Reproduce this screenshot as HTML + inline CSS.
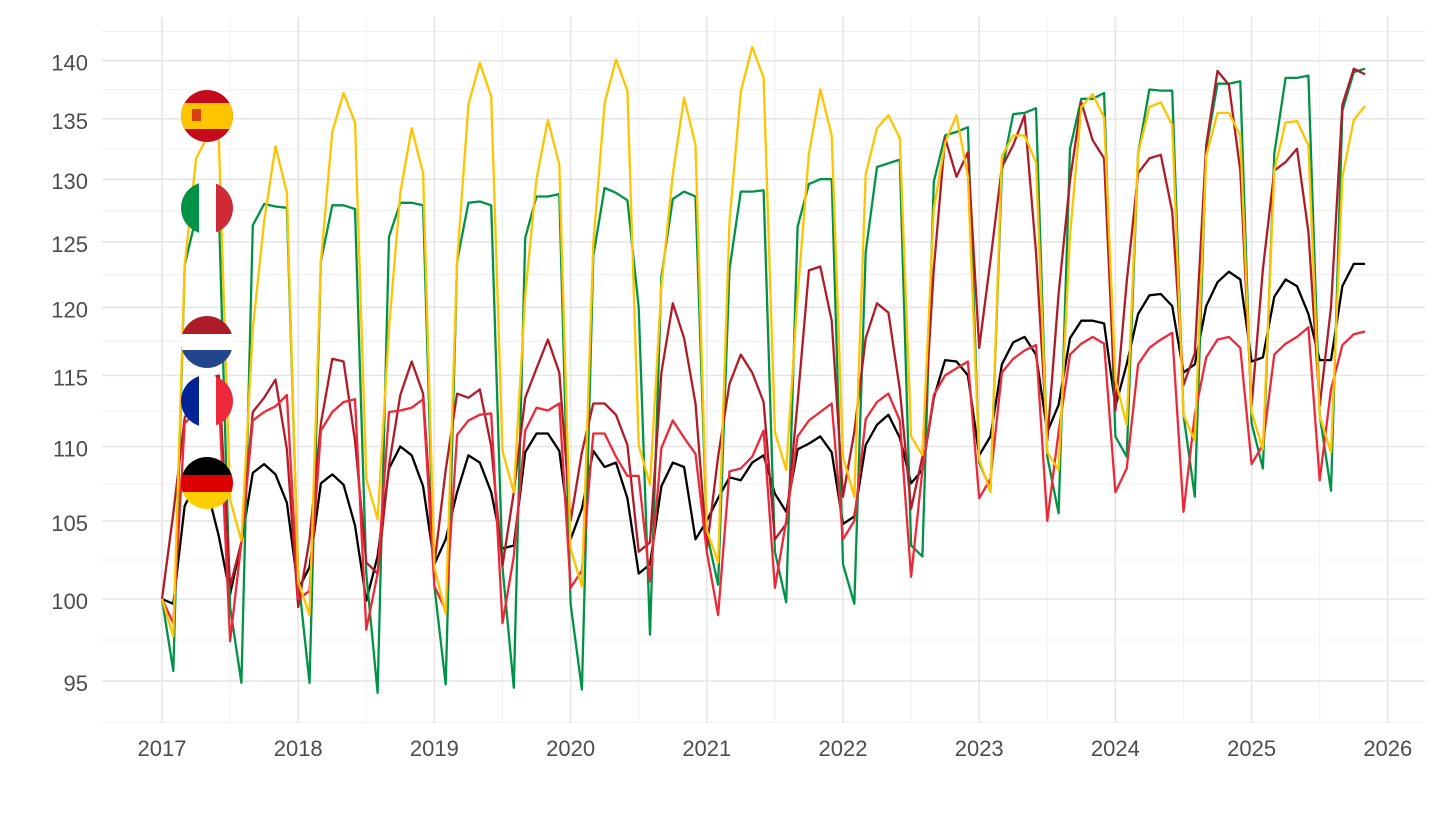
<!DOCTYPE html>
<html><head><meta charset="utf-8"><style>
html,body{margin:0;padding:0;background:#fff;}
svg text{font-family:"Liberation Sans",Arial,sans-serif;}
</style></head><body>
<svg id="chart" width="1440" height="810" viewBox="0 0 1440 810" xmlns="http://www.w3.org/2000/svg">
<defs>
<clipPath id="cES"><circle cx="207" cy="116" r="26"/></clipPath>
<clipPath id="cIT"><circle cx="207" cy="208" r="26"/></clipPath>
<clipPath id="cNL"><circle cx="207" cy="342" r="26"/></clipPath>
<clipPath id="cFR"><circle cx="207" cy="401" r="26"/></clipPath>
<clipPath id="cDE"><circle cx="207" cy="483" r="26"/></clipPath>
</defs>
<g id="grid"></g>
<g id="axes"></g>
<g id="series"></g>
<g id="flags">
 <g clip-path="url(#cES)">
  <rect x="181" y="90" width="52" height="52" fill="#C60B1E"/>
  <rect x="181" y="103" width="52" height="26" fill="#FFC400"/>
  <rect x="192" y="109" width="9" height="12" fill="#C60B1E" opacity="0.7"/>
 </g>
 <g clip-path="url(#cIT)">
  <rect x="181" y="182" width="18" height="52" fill="#009246"/>
  <rect x="199" y="182" width="17" height="52" fill="#fff"/>
  <rect x="216" y="182" width="18" height="52" fill="#CE2B37"/>
 </g>
 <g clip-path="url(#cNL)">
  <rect x="181" y="316" width="52" height="18" fill="#AE1C28"/>
  <rect x="181" y="334" width="52" height="16" fill="#fff"/>
  <rect x="181" y="350" width="52" height="18" fill="#21468B"/>
 </g>
 <g clip-path="url(#cFR)">
  <rect x="181" y="375" width="18" height="52" fill="#002395"/>
  <rect x="199" y="375" width="17" height="52" fill="#fff"/>
  <rect x="216" y="375" width="18" height="52" fill="#ED2939"/>
 </g>
 <g clip-path="url(#cDE)">
  <rect x="181" y="457" width="52" height="18" fill="#000"/>
  <rect x="181" y="475" width="52" height="17" fill="#DD0000"/>
  <rect x="181" y="492" width="52" height="18" fill="#FFCE00"/>
 </g>
</g>
</svg>
<script>
const germany=[100,99.7,106,107.5,107,104,
100.3,103.6,108.2,108.8,108.1,106.2,100.6,
102.0,107.5,108.1,107.4,104.7,99.9,
102.7,108.5,110.0,109.4,107.3,102.2,
103.8,106.9,109.4,108.9,106.9,103.2,
103.4,109.6,110.9,110.9,109.7,103.8,
105.8,109.7,108.6,108.9,106.5,101.6,
102.2,107.3,108.9,108.6,103.8,105.0,
106.5,107.9,107.7,108.9,109.4,106.8,
105.6,109.8,110.2,110.7,109.6,104.8,
105.3,110.1,111.5,112.2,110.6,107.5,
108.4,113.4,116.1,116.0,115.0,109.4,
110.7,115.8,117.4,117.8,116.5,111.0,
112.9,117.7,119.0,119.0,118.8,112.8,
115.8,119.5,120.9,121.0,120.1,115.2,
115.8,120.1,121.9,122.7,122.1,116.0,
116.3,120.8,122.1,121.6,119.5,116.1,
116.1,121.6,123.3,123.3];
const spain=[100,97.7,123.2,131.7,133.5,133.3,
106.4,103.7,118.4,126.6,132.7,128.9,101.1,
99.0,123.5,133.9,137.2,134.7,107.8,
105.1,118.4,128.9,134.2,130.5,102.0,
99.1,123.5,136.2,139.8,136.9,109.7,
106.9,120.9,130.0,134.9,131.2,103.2,
100.8,124.8,136.3,140.1,137.4,110.1,
107.4,121.6,130.4,136.8,132.8,104.4,
102.3,126.6,137.3,141.2,138.5,111.0,
108.4,120.9,132.1,137.5,133.6,109.3,
106.6,130.4,134.2,135.3,133.4,110.7,
109.4,127.6,133.0,135.3,130.2,109.1,
106.9,131.9,133.6,133.6,131.4,109.6,
108.4,125.5,136.0,137.1,135.1,114.7,
111.5,132.1,136.0,136.4,134.5,112.2,
110.4,131.9,135.5,135.5,133.6,112.4,
109.8,130.7,134.7,134.8,132.8,112.1,
109.6,130.2,134.9,136.1];
const italy=[100,95.6,123.2,127,128,127.8,
99.5,94.9,126.3,128,127.8,127.7,101.4,
94.9,123.5,127.9,127.9,127.6,101.6,
94.3,125.4,128.1,128.1,127.9,100.8,
94.8,123.5,128.1,128.2,127.9,102.0,
94.6,125.3,128.6,128.6,128.8,99.7,
94.5,123.9,129.3,128.9,128.3,120.0,
97.8,122.3,128.4,129.0,128.6,104.2,
100.9,122.9,129.0,129.0,129.1,103,
99.8,126.2,129.6,130.0,130.0,102.2,
99.7,124.2,131.0,131.3,131.6,103.4,
102.7,129.8,133.6,133.9,134.3,108.9,
107.1,130.7,135.4,135.5,135.9,109.3,
105.5,132.5,136.7,136.7,137.2,110.7,
109.3,132.1,137.5,137.4,137.4,112.2,
106.6,132.5,138.0,138.0,138.2,111.6,
108.5,132.1,138.5,138.5,138.7,112.2,
107.0,135.7,139.0,139.3];
const france=[100,98.5,111.6,112.5,113,113.6,
97.4,103.6,111.8,112.4,112.8,113.6,100.0,
100.5,111.1,112.4,113.1,113.3,98.1,
101.6,112.4,112.5,112.7,113.3,100.8,
99.3,110.8,111.8,112.2,112.3,98.5,
102.7,111.1,112.7,112.5,113.0,100.7,
101.8,110.9,110.9,109.3,108.0,108.0,
101.1,109.9,111.8,110.6,109.5,103.0,
99.0,108.3,108.5,109.3,111.1,100.7,
105.0,110.7,111.8,112.4,113.0,103.8,
105.0,111.9,113.1,113.7,111.8,101.4,
108.4,113.6,115.0,115.5,116.0,106.5,
107.8,115.2,116.2,116.8,117.2,105.0,
111,116.5,117.3,117.8,117.3,106.9,
108.5,115.8,117.0,117.6,118.1,105.6,
112.2,116.3,117.6,117.8,117.0,108.8,
110.1,116.5,117.3,117.8,118.5,107.7,
114.0,117.2,118.0,118.2];
const netherlands=[100,105.5,112,113.5,114.7,115,
100.8,103.6,112.4,113.4,114.7,109.8,99.5,
103.8,111.6,116.2,116.0,110.4,102.3,
101.6,108.7,113.6,116.0,113.7,102.2,
108.4,113.7,113.4,114.0,110.0,102.1,
106.9,113.4,115.5,117.6,115.2,105.0,
109.6,113.0,113.0,112.2,110.1,103.0,
103.6,115.2,120.3,117.7,113.0,103.2,
109.3,114.4,116.5,115.2,113.1,103.8,
104.8,113.1,122.8,123.1,119.0,106.6,
111.0,117.7,120.3,119.6,114.0,105.8,
109.3,122.9,133.4,130.2,132.2,117.0,
123.6,131.0,132.8,135.3,124.2,110.4,
121,129.9,136.4,133.2,131.7,112.5,
121.9,130.5,131.7,132.0,127.4,114.3,
116.6,132.8,139.1,137.9,130.7,112.8,
122.9,130.7,131.4,132.5,125.8,112.8,
120.0,136.2,139.3,138.8];
const yTicks=[95,100,105,110,115,120,125,130,135,140];
const xTicks=[2017,2018,2019,2020,2021,2022,2023,2024,2025,2026];

const NS='http://www.w3.org/2000/svg';
function xS(yearFrac){return 162+(yearFrac-2017)*136.2;}
function xI(i){return xS(2017+i/12);}
function yS(v){return 599-1600*Math.log(v/100);}
function mk(tag,attrs,parent){const e=document.createElementNS(NS,tag);for(const k in attrs)e.setAttribute(k,attrs[k]);parent.appendChild(e);return e;}
const grid=document.getElementById('grid'),axes=document.getElementById('axes'),series=document.getElementById('series');
const L=102,R=1425,T=17,B=723;
const yPix=yTicks.map(yS);
const minorY=[yPix[0]+(yPix[0]-yPix[1])/2];
for(let k=0;k<yPix.length-1;k++)minorY.push((yPix[k]+yPix[k+1])/2);
minorY.push(yPix[yPix.length-1]-(yPix[yPix.length-2]-yPix[yPix.length-1])/2);
minorY.forEach(y=>{const l=mk('line',{x1:L,x2:R,y1:y,y2:y,stroke:'#f0f0f0','stroke-width':1},grid);

});
for(let yr=2016.5;yr<=2026.5;yr+=1){const x=xS(yr);if(x<L-1||x>R)continue;const l=mk('line',{x1:x,x2:x,y1:T,y2:B,stroke:'#f0f0f0','stroke-width':1},grid);

}
yTicks.forEach(v=>{const y=yS(v);const l=mk('line',{x1:L,x2:R,y1:y,y2:y,stroke:'#e6e6e6','stroke-width':1.6},grid);


const t=mk('text',{x:88,y:y+10,'text-anchor':'end','font-size':22,fill:'#4d4d4d'},axes);t.textContent=v;

});
xTicks.forEach(yr=>{const x=xS(yr);const l=mk('line',{x1:x,x2:x,y1:T,y2:B,stroke:'#e6e6e6','stroke-width':1.6},grid);


const t=mk('text',{x:x,y:756,'text-anchor':'middle','font-size':22,fill:'#4d4d4d'},axes);t.textContent=yr;

});
function draw(arr,color,name){const d=arr.map((v,i)=>(i?'L':'M')+xI(i).toFixed(1)+' '+yS(v).toFixed(1)).join(' ');
const p=mk('path',{d:d,fill:'none',stroke:color,'stroke-width':2.3,'stroke-linejoin':'round'},series);

}
draw(germany,'#000000','line-germany');
draw(italy,'#009246','line-italy');
draw(netherlands,'#AE1C28','line-netherlands');
draw(france,'#ED2939','line-france');
draw(spain,'#FFC400','line-spain');
</script>
</body></html>
